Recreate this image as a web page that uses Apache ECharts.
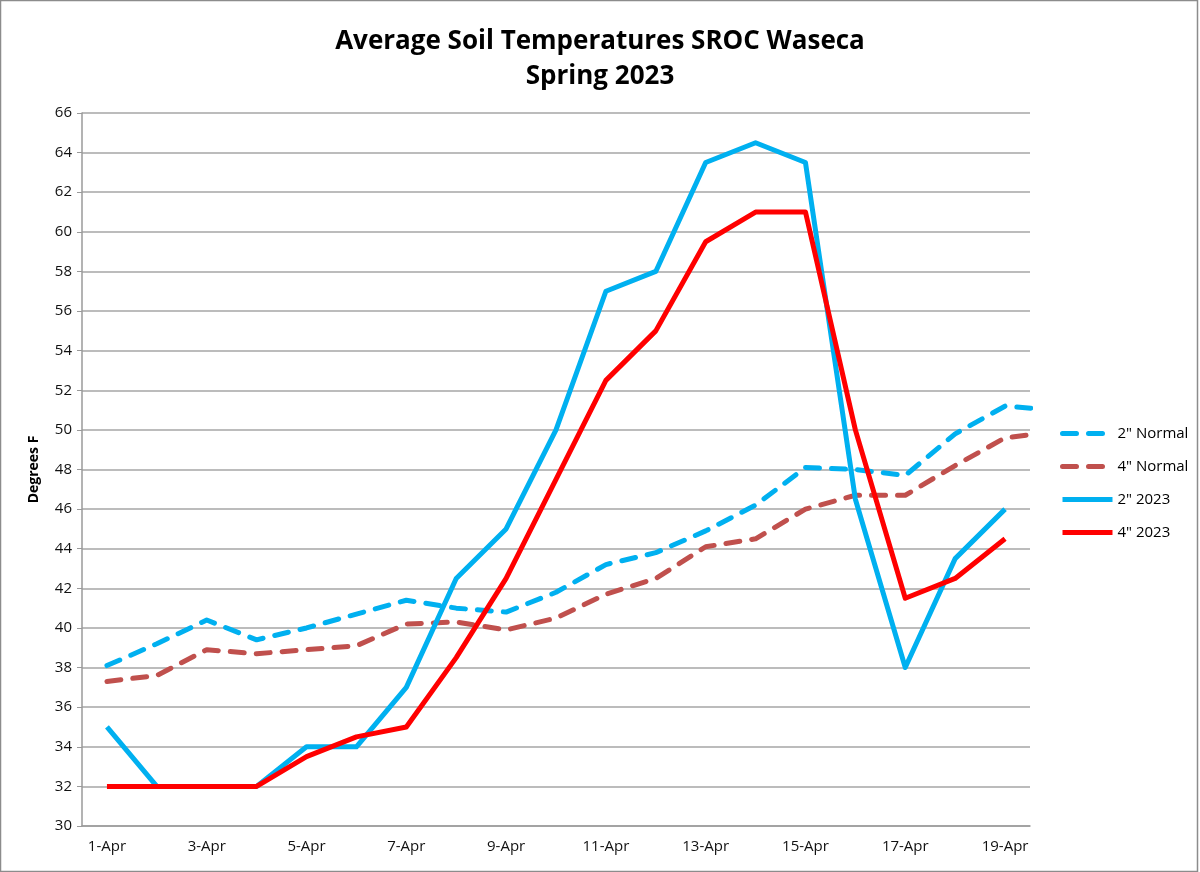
<!DOCTYPE html>
<html>
<head>
<meta charset="utf-8">
<script src="https://cdn.jsdelivr.net/npm/echarts@6/dist/echarts.min.js"></script>
<style>
  html, body { margin: 0; padding: 0; background: #fff; }
  #chart { width: 1200px; height: 872px; }
</style>
</head>
<body>
<div id="chart"></div>
<script>
// soil temps, SROC Waseca, spring 2023

var days = ['1-Apr', '2-Apr', '3-Apr', '4-Apr', '5-Apr', '6-Apr', '7-Apr', '8-Apr', '9-Apr', '10-Apr',
            '11-Apr', '12-Apr', '13-Apr', '14-Apr', '15-Apr', '16-Apr', '17-Apr', '18-Apr', '19-Apr'];

// normals run one day past the axis (20-Apr), clipped at the plot edge
var normal2in = [38.1, 39.2, 40.4, 39.4, 40.0, 40.7, 41.4, 41.0, 40.8, 41.8,
                 43.2, 43.8, 44.9, 46.2, 48.1, 48.0, 47.7, 49.8, 51.2, 51.0];
var normal4in = [37.3, 37.6, 38.9, 38.7, 38.9, 39.1, 40.2, 40.3, 39.9, 40.5,
                 41.7, 42.5, 44.1, 44.5, 46.0, 46.7, 46.7, 48.2, 49.6, 49.9];
var temp2in2023 = [35, 32, 32, 32, 34, 34, 37, 42.5, 45, 50,
                   57, 58, 63.5, 64.5, 63.5, 46.5, 38, 43.5, 46];
var temp4in2023 = [32, 32, 32, 32, 33.5, 34.5, 35, 38.5, 42.5, 47.5,
                   52.5, 55, 59.5, 61, 61, 50, 41.5, 42.5, 44.5];

var FONT = "'Liberation Sans Narrow', 'Open Sans', sans-serif";

function onBands(arr) {
    return arr.map(function (v, i) { return [i + 0.5, v]; });
}

var chart = echarts.init(document.getElementById('chart'), null, { renderer: 'canvas' });

var option = {
    backgroundColor: '#fff',
    animation: false,
    title: {
        text: 'Average Soil Temperatures SROC Waseca\nSpring 2023',
        left: 'center',
        top: 19,
        textStyle: {
            fontFamily: FONT,
            fontSize: 26,
            fontWeight: 'bold',
            color: '#000',
            lineHeight: 35
        }
    },
    legend: {
        orient: 'vertical',
        left: 1055,
        top: 421,
        itemWidth: 50,
        itemHeight: 14,
        itemGap: 18,
        itemStyle: { opacity: 0 },
        lineStyle: { width: 5 },
        textStyle: { fontFamily: FONT, fontSize: 15, color: '#000' },
        data: ['2" Normal', '4" Normal', '2" 2023', '4" 2023']
    },
    grid: {
        left: 82,
        right: 170,
        top: 113,
        bottom: 46
    },
    xAxis: [{
        type: 'category',
        data: days,
        boundaryGap: true,
        axisLine: { lineStyle: { color: '#9a9a9a', width: 1.5 } },
        axisTick: { interval: 1, length: 6, lineStyle: { color: '#9a9a9a' } },
        axisLabel: { interval: 1, margin: 13, fontFamily: FONT, fontSize: 15, color: '#111' }
    }, {
        type: 'value',
        min: 0,
        max: 19,
        show: false
    }],
    yAxis: {
        type: 'value',
        min: 30,
        max: 66,
        interval: 2,
        name: 'Degrees F',
        nameLocation: 'middle',
        nameRotate: 90,
        nameGap: 41,
        nameTextStyle: { fontFamily: FONT, fontSize: 14, fontWeight: 'bold', color: '#000' },
        axisLine: { show: true, lineStyle: { color: '#9a9a9a', width: 1.5 } },
        axisTick: { show: true, length: 5, lineStyle: { color: '#9a9a9a' } },
        axisLabel: { margin: 10, fontFamily: FONT, fontSize: 15, color: '#111' },
        splitLine: { lineStyle: { color: '#a6a6a6', width: 1.5 } }
    },
    series: [{
        name: '2" Normal',
        type: 'line',
        xAxisIndex: 1,
        data: onBands(normal2in),
        symbol: 'none',
        color: '#00B0F0',
        lineStyle: { width: 5, type: [14, 12], cap: 'round', join: 'round' }
    }, {
        name: '4" Normal',
        type: 'line',
        xAxisIndex: 1,
        data: onBands(normal4in),
        symbol: 'none',
        color: '#C0504D',
        lineStyle: { width: 5, type: [14, 12], cap: 'round', join: 'round' }
    }, {
        name: '2" 2023',
        type: 'line',
        data: temp2in2023,
        symbol: 'none',
        color: '#00B0F0',
        lineStyle: { width: 5, join: 'round' }
    }, {
        name: '4" 2023',
        type: 'line',
        data: temp4in2023,
        symbol: 'none',
        color: '#FF0000',
        lineStyle: { width: 5, join: 'round' }
    }],
    graphic: [{
        type: 'rect',
        shape: { x: 0.5, y: 0.5, width: 1197, height: 871 },
        style: { fill: null, stroke: '#8c8c8c', lineWidth: 1.5 },
        silent: true
    }]
};

chart.setOption(option);
</script>
</body>
</html>
